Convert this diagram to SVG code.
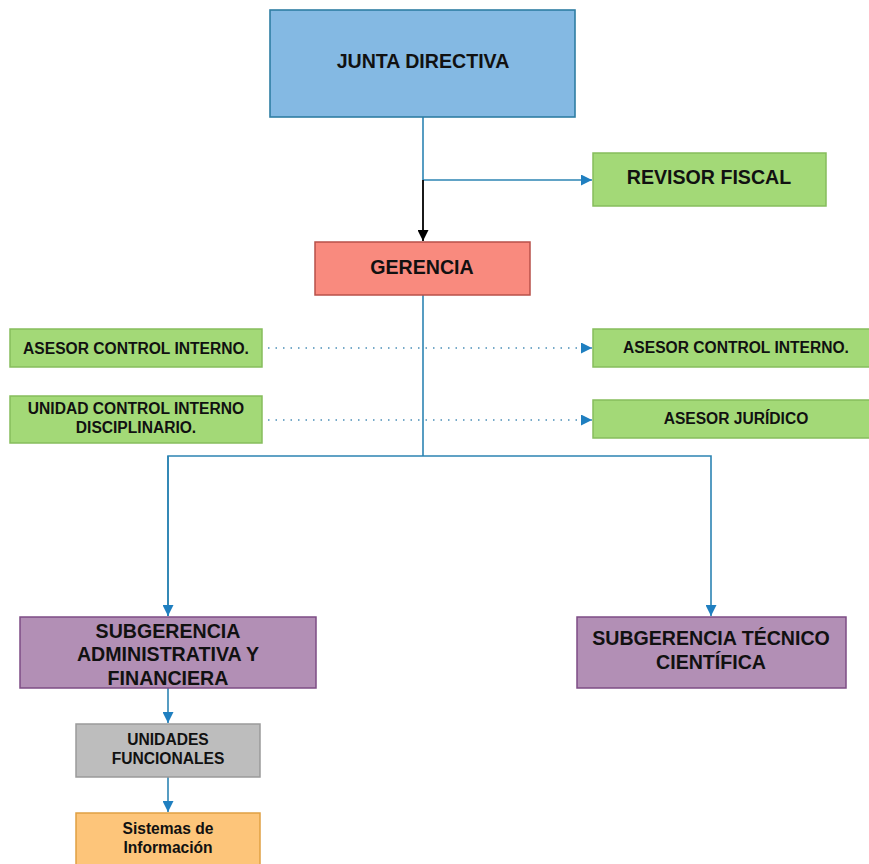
<svg xmlns="http://www.w3.org/2000/svg" width="869" height="864" viewBox="0 0 869 864">
<style>
text{font-family:"Liberation Sans",Arial,sans-serif;font-weight:bold;fill:#111;text-anchor:middle}
.b{font-size:19.6px}.s{font-size:15.6px}
.green{fill:#a3d977;stroke:#86bd5c;stroke-width:1.5}
.purple{fill:#b28fb5;stroke:#7d4c85;stroke-width:1.5}
.c{fill:none;stroke:#2c84b3;stroke-width:1.6}
.d{fill:none;stroke:#4a8fb8;stroke-width:1.4;stroke-dasharray:1.5 6}
</style>
<defs>
<marker id="ab" viewBox="0 0 10 10" refX="10" refY="5" markerWidth="12" markerHeight="11" markerUnits="userSpaceOnUse" orient="auto"><path d="M0,0L10,5L0,10z" fill="#1f7fc0"/></marker>
<marker id="ak" viewBox="0 0 10 10" refX="10" refY="5" markerWidth="12" markerHeight="11" markerUnits="userSpaceOnUse" orient="auto"><path d="M0,0L10,5L0,10z" fill="#000"/></marker>
</defs>
<rect width="869" height="864" fill="#fff"/>
<g id="connectors">
<path class="c" d="M423,117V180"/>
<path class="c" d="M423,180H592" marker-end="url(#ab)"/>
<path d="M423,180V241" fill="none" stroke="#000" stroke-width="1.8" marker-end="url(#ak)"/>
<path class="c" d="M423,295V456"/>
<path class="c" d="M168,616V456H711V616" marker-end="url(#ab)"/>
<path class="c" d="M168,456V616" marker-end="url(#ab)"/>
<path class="d" d="M268,348H592" marker-end="url(#ab)"/>
<path class="d" d="M268,420H592" marker-end="url(#ab)"/>
<path class="c" d="M168,688V723" marker-end="url(#ab)"/>
<path class="c" d="M168,777V812" marker-end="url(#ab)"/>
</g>
<g id="junta"><rect x="270" y="10" width="305" height="107" fill="#84b9e3" stroke="#2f7ea3" stroke-width="1.6"/><text class="b" x="423" y="68">JUNTA DIRECTIVA</text></g>
<g id="revisor"><rect class="green" x="593" y="153" width="233" height="53"/><text class="b" x="709" y="184">REVISOR FISCAL</text></g>
<g id="gerencia"><rect x="315" y="242" width="215" height="53" fill="#f98a7e" stroke="#b8504a" stroke-width="1.5"/><text class="b" x="422" y="274">GERENCIA</text></g>
<g id="asesor-ci-left"><rect class="green" x="10" y="329" width="252" height="38"/><text class="s" x="136" y="354">ASESOR CONTROL INTERNO.</text></g>
<g id="unidad-cid"><rect class="green" x="10" y="396" width="252" height="47"/><text class="s" x="136" y="414">UNIDAD CONTROL INTERNO</text><text class="s" x="136" y="433">DISCIPLINARIO.</text></g>
<g id="asesor-ci-right"><rect class="green" x="593" y="329" width="280" height="38"/><text class="s" x="736" y="353">ASESOR CONTROL INTERNO.</text></g>
<g id="asesor-juridico"><rect class="green" x="593" y="400" width="280" height="38"/><text class="s" x="736" y="424">ASESOR JURÍDICO</text></g>
<g id="sub-admin"><rect class="purple" x="20" y="617" width="296" height="71"/><text class="b" x="168" y="638">SUBGERENCIA</text><text class="b" x="168" y="661">ADMINISTRATIVA Y</text><text class="b" x="168" y="685">FINANCIERA</text></g>
<g id="sub-tecnico"><rect class="purple" x="577" y="617" width="269" height="71"/><text class="b" x="711" y="645">SUBGERENCIA TÉCNICO</text><text class="b" x="711" y="669">CIENTÍFICA</text></g>
<g id="unidades"><rect x="76" y="724" width="184" height="53" fill="#bdbdbd" stroke="#9a9a9a" stroke-width="1.5"/><text class="s" x="168" y="745">UNIDADES</text><text class="s" x="168" y="764">FUNCIONALES</text></g>
<g id="sistemas"><rect x="76" y="813" width="184" height="60" fill="#fdc57a" stroke="#e0a043" stroke-width="1.5"/><text class="s" x="168" y="834">Sistemas de</text><text class="s" x="168" y="853">Información</text></g>
</svg>
